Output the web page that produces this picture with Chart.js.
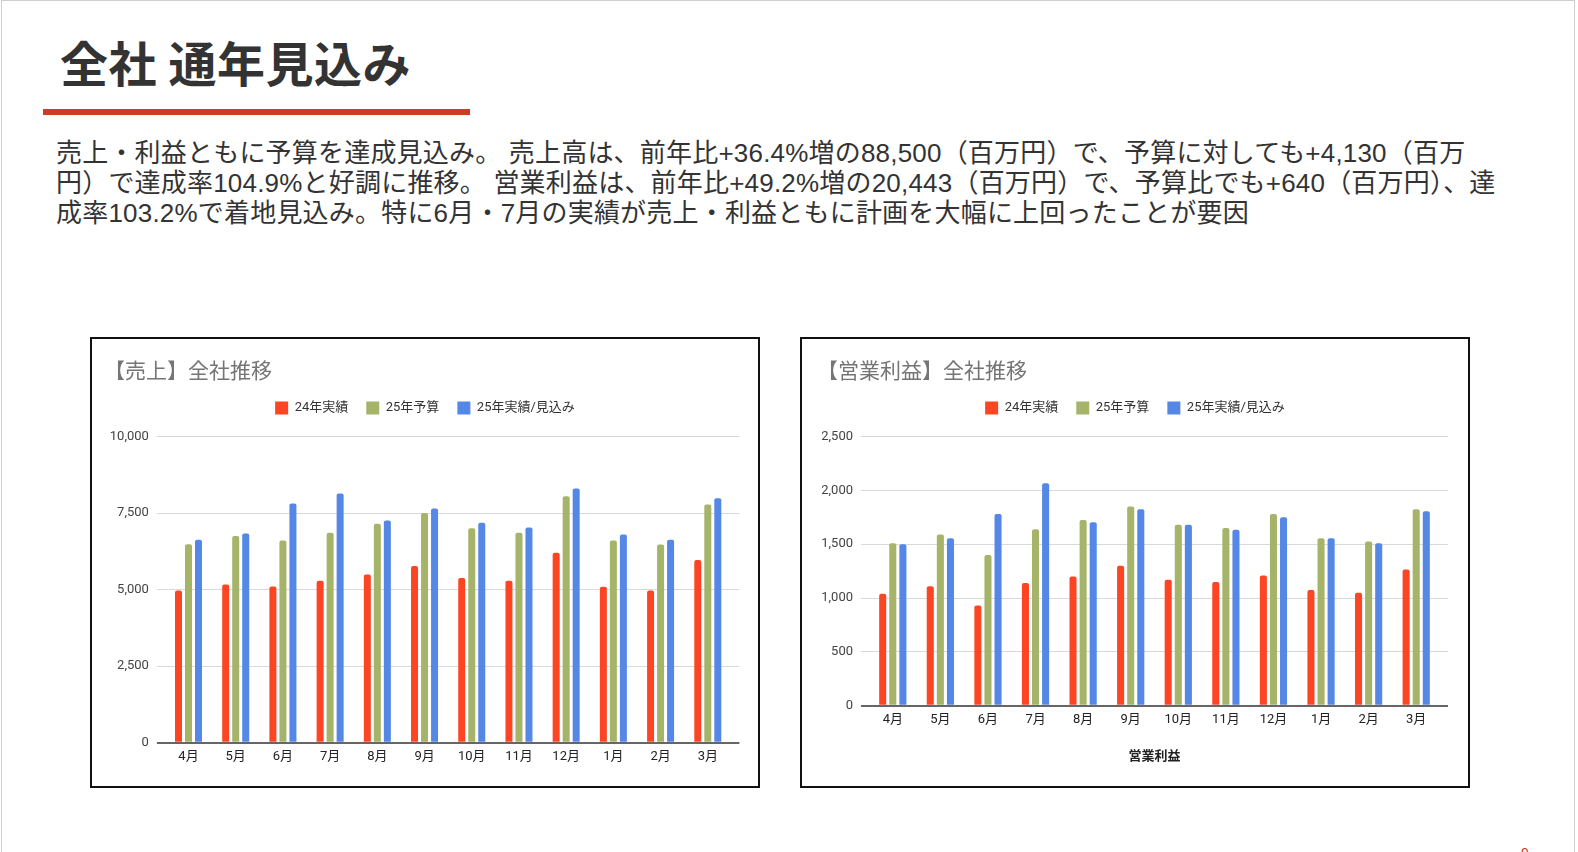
<!DOCTYPE html>
<html lang="ja">
<head>
<meta charset="utf-8">
<title>全社 通年見込み</title>
<script src="https://cdn.jsdelivr.net/npm/chart.js@4.4.1/dist/chart.umd.min.js"></script>
<style>
    html, body {
        margin: 0;
        padding: 0;
        background: #fff;
        width: 1578px;
        height: 852px;
        overflow: hidden;
        position: relative;
        font-family: "Liberation Sans", "Noto Sans CJK JP", sans-serif;
        color: #333;
    }
    .slide-edge {
        position: absolute;
        left: 1px;
        top: 0;
        width: 1574px;
        height: 900px;
        border: 1px solid #cfcfcf;
        box-sizing: border-box;
    }
    .heading {
        position: absolute;
        left: 60px;
        top: 37px;
        font-family: "Noto Sans CJK JP", sans-serif;
        font-weight: 700;
        font-size: 48px;
        line-height: 48px;
        letter-spacing: 0.5px;
        color: #333;
        white-space: nowrap;
    }
    .heading-bar {
        position: absolute;
        left: 43px;
        top: 109px;
        width: 427px;
        height: 6px;
        background: #cf3a22;
    }
    .summary {
        position: absolute;
        left: 56px;
        top: 138px;
        font-size: 26px;
        line-height: 30px;
        letter-spacing: 0.2px;
        color: #333;
        white-space: nowrap;
    }
    .chart-box {
        position: absolute;
        top: 337px;
        width: 670px;
        height: 451px;
        border: 2px solid #111;
        box-sizing: border-box;
        background: #fff;
    }
    .chart-box canvas {
        display: block;
    }
    .page-no {
        position: absolute;
        left: 1521px;
        top: 845px;
        font-size: 14px;
        color: #d03a25;
    }
</style>
</head>
<body>
<div class="slide-edge"></div>
<div class="heading">全社 通年見込み</div>
<div class="heading-bar"></div>
<div class="summary">
    <div>売上・利益ともに予算を達成見込み。 売上高は、前年比+36.4%増の88,500（百万円）で、予算に対しても+4,130（百万</div>
    <div>円）で達成率104.9%と好調に推移。 営業利益は、前年比+49.2%増の20,443（百万円）で、予算比でも+640（百万円）、達</div>
    <div>成率103.2%で着地見込み。特に6月・7月の実績が売上・利益ともに計画を大幅に上回ったことが要因</div>
</div>

<div class="chart-box" style="left: 90px;">
    <canvas id="salesChart" width="666" height="447"></canvas>
</div>
<div class="chart-box" style="left: 800px;">
    <canvas id="profitChart" width="666" height="447"></canvas>
</div>
<div class="page-no">9</div>

<script>
const months = ['4月', '5月', '6月', '7月', '8月', '9月', '10月', '11月', '12月', '1月', '2月', '3月'];
const seriesLabels = ['24年実績', '25年予算', '25年実績/見込み'];
const seriesColors = ['#fd4524', '#a6b46a', '#5587e6'];

// 売上（百万円）
const sales2024 = [4970, 5170, 5100, 5290, 5490, 5770, 5380, 5290, 6200, 5090, 4970, 5970];
const salesBudget2025 = [6480, 6750, 6600, 6860, 7150, 7500, 7000, 6860, 8050, 6600, 6470, 7780];
const salesForecast2025 = [6630, 6830, 7810, 8140, 7260, 7650, 7180, 7030, 8300, 6800, 6630, 7980];
const salesTicks = [0, 2500, 5000, 7500, 10000];

// 営業利益（百万円）
const profit2024 = [1040, 1110, 930, 1140, 1200, 1300, 1170, 1150, 1210, 1075, 1050, 1265];
const profitBudget2025 = [1510, 1590, 1400, 1640, 1725, 1850, 1680, 1650, 1780, 1555, 1525, 1825];
const profitForecast2025 = [1500, 1555, 1780, 2065, 1705, 1825, 1680, 1635, 1750, 1555, 1510, 1805];
const profitTicks = [0, 500, 1000, 1500, 2000, 2500];

Chart.defaults.font.family = 'Roboto, "Noto Sans CJK JP", sans-serif';
Chart.defaults.color = '#333';

// legend.fit() has no bottom margin option, so stretch it a bit
const legendGap = {
    id: 'legendGap',
    beforeInit(chart) {
        const fit = chart.legend.fit;
        chart.legend.fit = function () {
            fit.bind(chart.legend)();
            this.height += 12;
        };
    }
};

function gridColor(ctx) {
    return ctx.tick && ctx.tick.value === 0 ? '#666' : '#d9d9d9';
}
function gridWidth(ctx) {
    return ctx.tick && ctx.tick.value === 0 ? 2 : 1;
}

function makeConfig(title, values, ticks, side, axisTitle) {
    let datasets = values.map((v, i) => {
        return {
            label: seriesLabels[i],
            data: v,
            backgroundColor: seriesColors[i],
            borderWidth: 0,
            borderRadius: 2,
            categoryPercentage: 0.636,
            barPercentage: 0.7
        };
    });

    let step = ticks[1] - ticks[0];
    let max = ticks[ticks.length - 1];

    return {
        type: 'bar',
        data: {
            labels: months,
            datasets: datasets
        },
        options: {
            responsive: false,
            animation: false,
            layout: {
                padding: { left: side.pad, right: side.pad, top: 0, bottom: side.bottom }
            },
            plugins: {
                title: {
                    display: true,
                    text: title,
                    align: 'start',
                    color: '#757575',
                    font: { size: 21, weight: 'normal' },
                    padding: { top: 21.5, bottom: -2.2 }
                },
                legend: {
                    position: 'top',
                    align: 'center',
                    labels: {
                        boxWidth: 13,
                        boxHeight: 13,
                        padding: 18,
                        color: '#333',
                        font: { size: 13 }
                    }
                },
                tooltip: { enabled: false }
            },
            scales: {
                x: {
                    grid: { display: false, drawTicks: false },
                    border: { display: false },
                    ticks: {
                        color: '#222',
                        font: { size: 13 },
                        padding: 6,
                        maxRotation: 0,
                        autoSkip: false
                    },
                    title: {
                        display: !!axisTitle,
                        text: axisTitle || '',
                        color: '#222',
                        font: { size: 13, weight: 'bold' },
                        padding: { top: 15.3, bottom: 0.5 }
                    }
                },
                y: {
                    min: 0,
                    max: max,
                    afterFit: (scale) => { scale.width = side.left; },
                    border: { display: false },
                    grid: {
                        color: gridColor,
                        lineWidth: gridWidth,
                        drawTicks: true,
                        tickLength: 8
                    },
                    ticks: {
                        stepSize: step,
                        color: '#444',
                        font: { size: 13 },
                        padding: 8,
                        callback: (value) => value.toLocaleString('en-US')
                    }
                },
                // right-hand stub so the grid lines run a little past the last bar
                yRight: {
                    position: 'right',
                    min: 0,
                    max: max,
                    afterFit: (scale) => { scale.width = side.right; },
                    border: { display: false },
                    grid: {
                        color: gridColor,
                        lineWidth: gridWidth,
                        drawOnChartArea: false,
                        drawTicks: true,
                        tickLength: 8
                    },
                    ticks: { display: false, stepSize: step }
                }
            }
        },
        plugins: [legendGap]
    };
}

document.addEventListener('DOMContentLoaded', () => {
    let salesCtx = document.getElementById('salesChart').getContext('2d');
    let salesChart = new Chart(salesCtx, makeConfig(
        '【売上】全社推移',
        [sales2024, salesBudget2025, salesForecast2025],
        salesTicks,
        { pad: 12, left: 60.9, right: 14.6, bottom: 15.7 },
        null
    ));

    let profitCtx = document.getElementById('profitChart').getContext('2d');
    let profitChart = new Chart(profitCtx, makeConfig(
        '【営業利益】全社推移',
        [profit2024, profitBudget2025, profitForecast2025],
        profitTicks,
        { pad: 15, left: 52, right: 13, bottom: 21.2 },
        '営業利益'
    ));
});
</script>
</body>
</html>
